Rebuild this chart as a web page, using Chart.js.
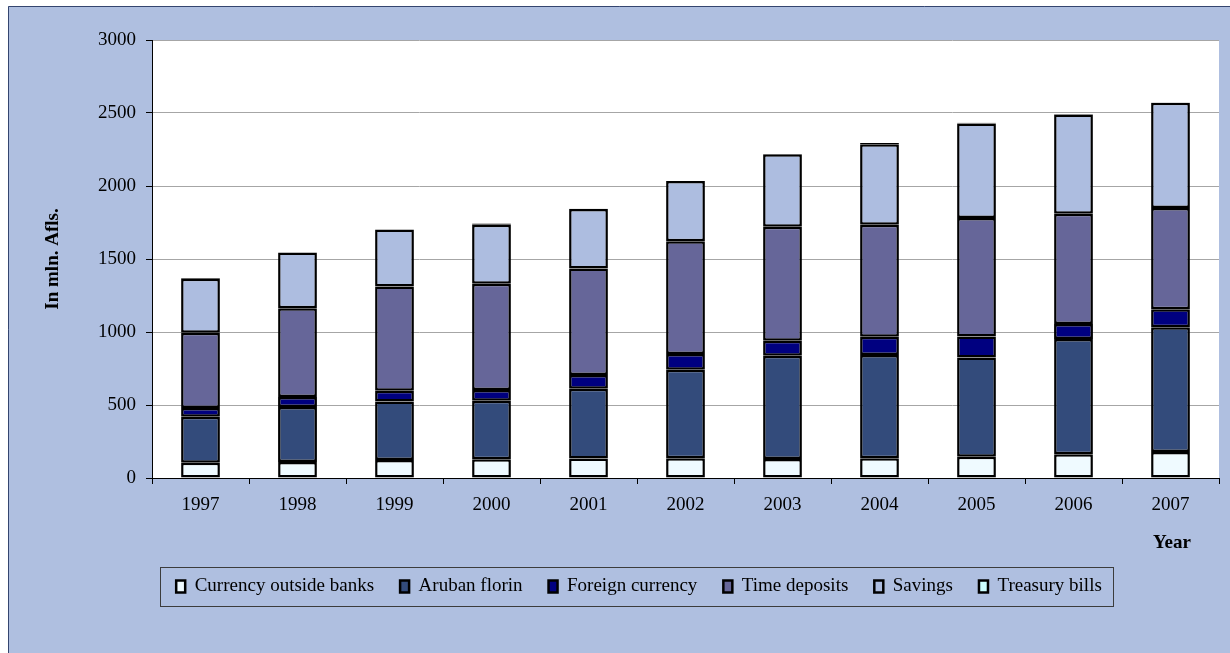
<!DOCTYPE html>
<html>
<head>
<meta charset="utf-8">
<script src="https://cdn.jsdelivr.net/npm/chart.js@4.4.0/dist/chart.umd.min.js"></script>
<style>
  html, body { margin: 0; padding: 0; background: #ffffff; }
  #wrap { position: relative; width: 1230px; height: 653px; }
</style>
</head>
<body>
<div id="wrap"><canvas id="money-chart" width="1230" height="653"></canvas></div>
<script>
const years = ['1997', '1998', '1999', '2000', '2001', '2002', '2003', '2004', '2005', '2006', '2007'];

const currencyOutsideBanks = [105, 110, 124, 128, 133, 135, 130, 135, 146, 163, 178];
const arubanFlorin = [314, 377, 400, 401, 478, 606, 707, 707, 680, 789, 854];
const foreignCurrency = [61, 67, 73, 73, 94, 108, 103, 126, 144, 103, 123];
const timeDeposits = [515, 608, 714, 728, 730, 773, 781, 767, 810, 755, 694];
const savings = [369, 383, 391, 405, 407, 412, 496, 551, 648, 680, 721];
const treasuryBills = [6, 0, 0, 8, 2, 0, 2, 8, 5, 4, 2];

const yTicks = [0, 500, 1000, 1500, 2000, 2500, 3000];

const serif = "'Liberation Serif', 'Times New Roman', serif";
const pageBlue = '#afbfe0';

// фон страницы, рамка легенды и подпись "Year"
const decorPlugin = {
    id: 'decor',
    beforeDraw(chart) {
        const ctx = chart.ctx;
        ctx.save();
        ctx.fillStyle = '#ffffff';
        ctx.fillRect(0, 0, chart.width, chart.height);
        ctx.fillStyle = pageBlue;
        ctx.fillRect(8, 6, chart.width - 8, chart.height - 6);
        ctx.strokeStyle = '#34456f';
        ctx.lineWidth = 1;
        ctx.beginPath();
        ctx.moveTo(8.5, chart.height);
        ctx.lineTo(8.5, 6.5);
        ctx.lineTo(chart.width, 6.5);
        ctx.stroke();
        const area = chart.chartArea;
        ctx.fillStyle = '#ffffff';
        ctx.fillRect(area.left, area.top, area.right - area.left, area.bottom - area.top);
        ctx.restore();
    },
    afterDraw(chart) {
        const ctx = chart.ctx;
        const area = chart.chartArea;
        ctx.save();
        ctx.font = 'bold 19px ' + serif;
        ctx.fillStyle = '#000000';
        ctx.textAlign = 'center';
        ctx.textBaseline = 'middle';
        ctx.fillText('Year', area.right - 47, area.bottom + 65);

        const boxes = chart.legend.legendHitBoxes;
        if (boxes && boxes.length) {
            const first = boxes[0];
            const last = boxes[boxes.length - 1];
            const cy = first.top + first.height / 2;
            const x1 = Math.round(first.left) - 15.5;
            const x2 = Math.round(last.left + last.width) + 11.5;
            const y1 = Math.round(cy) - 19.5;
            const y2 = Math.round(cy) + 19.5;
            ctx.strokeStyle = '#3c3c3c';
            ctx.lineWidth = 1;
            ctx.strokeRect(x1, y1, x2 - x1, y2 - y1);
        }
        ctx.restore();
    }
};

const makeSet = (label, data, color) => ({
    label,
    data,
    backgroundColor: color,
    borderColor: '#000000',
    borderWidth: 2.5,
    borderSkipped: false,
    inflateAmount: 0,
    categoryPercentage: 1,
    barPercentage: 0.4
});

new Chart(document.getElementById('money-chart'), {
    type: 'bar',
    data: {
        labels: years,
        datasets: [
            makeSet('Currency outside banks', currencyOutsideBanks, '#effaff'),
            makeSet('Aruban florin', arubanFlorin, '#334b7b'),
            makeSet('Foreign currency', foreignCurrency, '#000080'),
            makeSet('Time deposits', timeDeposits, '#666699'),
            makeSet('Savings', savings, '#adbde0'),
            makeSet('Treasury bills', treasuryBills, '#ccffff')
        ]
    },
    options: {
        responsive: false,
        animation: false,
        layout: {
            padding: { left: 59, right: 11, top: 40, bottom: 47 }
        },
        plugins: {
            legend: {
                display: true,
                position: 'bottom',
                labels: {
                    color: '#000000',
                    font: { family: serif, size: 19 },
                    boxWidth: 9,
                    boxHeight: 12,
                    padding: 26
                }
            },
            tooltip: { enabled: false }
        },
        scales: {
            x: {
                stacked: true,
                afterFit: (scale) => { scale.height = 73; },
                border: { color: '#000000', width: 1 },
                grid: {
                    offset: true,
                    drawOnChartArea: false,
                    tickLength: 6,
                    tickColor: '#000000'
                },
                ticks: {
                    color: '#000000',
                    padding: 10,
                    font: { family: serif, size: 19 }
                }
            },
            y: {
                stacked: true,
                min: 0,
                max: 3000,
                afterFit: (scale) => { scale.width = 93; },
                afterBuildTicks: (scale) => {
                    scale.ticks = yTicks.map(v => ({ value: v }));
                },
                border: { color: '#000000', width: 1 },
                grid: {
                    color: '#a6a6a6',
                    lineWidth: 1,
                    tickLength: 6,
                    tickColor: '#000000'
                },
                ticks: {
                    color: '#000000',
                    padding: 10,
                    font: { family: serif, size: 19 },
                    callback: (value) => String(value)
                },
                title: {
                    display: true,
                    text: 'In mln. Afls.',
                    color: '#000000',
                    padding: { top: -17, bottom: 0 },
                    font: { family: serif, size: 19, weight: 'bold' }
                }
            }
        }
    },
    plugins: [decorPlugin]
});
</script>
</body>
</html>
